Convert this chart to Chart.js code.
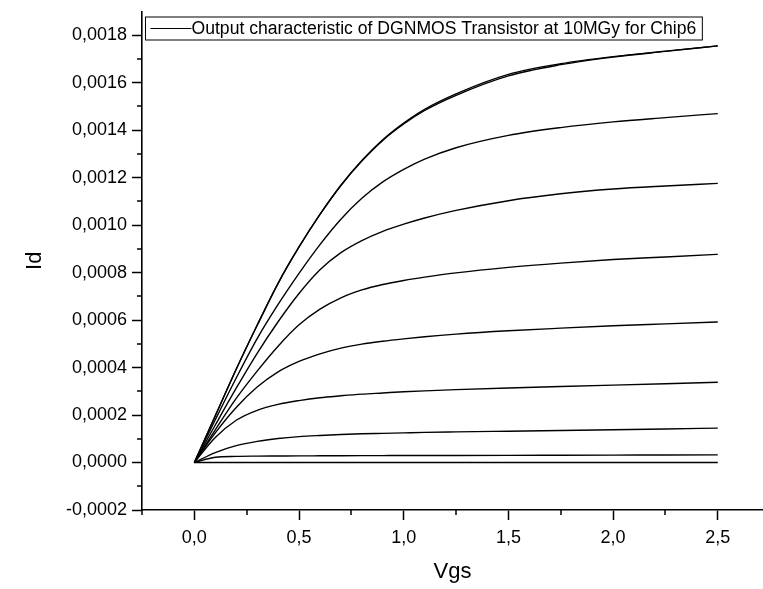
<!DOCTYPE html>
<html>
<head>
<meta charset="utf-8">
<script src="https://cdn.jsdelivr.net/npm/chart.js@4/dist/chart.umd.min.js"></script>
<style>
  html, body { margin: 0; padding: 0; background: #fff; overflow: hidden; }
  #wrap { width: 763px; height: 589px; position: relative; }
</style>
</head>
<body>
<div id="wrap"><canvas id="outChar"></canvas></div>
<script>
// drain voltage sweep (x values shared by every curve)
const vds = [0, 0.1, 0.2, 0.3, 0.4, 0.5, 0.6, 0.7, 0.8, 0.9, 1.0, 1.1, 1.25, 1.5, 1.75, 2.0, 2.25, 2.5];

// drain current, one array per gate step (top to bottom)
const id1 = [0, 0.000197, 0.000393, 0.000578, 0.000755, 0.000908, 0.001045, 0.001168, 0.001272, 0.001360, 0.001430, 0.001488, 0.001553, 0.001635, 0.001680, 0.001710, 0.001733, 0.001755];
const id1b = [0, 0.000197, 0.000393, 0.000578, 0.000755, 0.000908, 0.001045, 0.001167, 0.001270, 0.001357, 0.001426, 0.001483, 0.001547, 0.001629, 0.001676, 0.001708, 0.001732, 0.001755];
const id2 = [0, 0.000180, 0.000356, 0.000522, 0.000666, 0.000797, 0.000918, 0.001025, 0.001113, 0.001182, 0.001235, 0.001278, 0.001326, 0.001378, 0.001411, 0.001435, 0.001453, 0.001470];
const id3 = [0, 0.000158, 0.000313, 0.000460, 0.000593, 0.000712, 0.000812, 0.000884, 0.000935, 0.000974, 0.001004, 0.001030, 0.001062, 0.001103, 0.001132, 0.001152, 0.001165, 0.001176];
const id4 = [0, 0.000138, 0.000270, 0.000385, 0.000490, 0.000580, 0.000646, 0.000694, 0.000727, 0.000750, 0.000767, 0.000781, 0.000799, 0.000822, 0.000840, 0.000855, 0.000866, 0.000877];
const id5 = [0, 0.000125, 0.000232, 0.000318, 0.000382, 0.000426, 0.000458, 0.000482, 0.000499, 0.000511, 0.000521, 0.000530, 0.000541, 0.000555, 0.000566, 0.000576, 0.000584, 0.000592];
const id6 = [0, 0.000105, 0.000178, 0.000220, 0.000245, 0.000261, 0.000273, 0.000281, 0.000288, 0.000293, 0.000298, 0.000302, 0.000307, 0.000314, 0.000320, 0.000326, 0.000332, 0.000338];
const id7 = [0, 0.000042, 0.000071, 0.000089, 0.000101, 0.000109, 0.000114, 0.000118, 0.000121, 0.000123, 0.000125, 0.000127, 0.000129, 0.000132, 0.000135, 0.000138, 0.000141, 0.000145];
const id8 = [0, 0.000022, 0.000026, 0.000027, 0.0000275, 0.000028, 0.0000283, 0.0000286, 0.0000289, 0.0000292, 0.0000295, 0.0000297, 0.0000299, 0.000030, 0.0000306, 0.0000312, 0.0000318, 0.0000324];
const id9 = [0, 0, 0, 0, 0, 0, 0, 0, 0, 0, 0, 0, 0, 0, 0, 0, 0, 0];

const curves = [id1, id1b, id2, id3, id4, id5, id6, id7, id8, id9];
const legendText = "Output characteristic of DGNMOS Transistor at 10MGy for Chip6";

// axis ticks
const xMajor = [0, 0.5, 1.0, 1.5, 2.0, 2.5];
const xMinor = [-0.25, 0.25, 0.75, 1.25, 1.75, 2.25];
const yMajor = [-0.0002, 0, 0.0002, 0.0004, 0.0006, 0.0008, 0.0010, 0.0012, 0.0014, 0.0016, 0.0018];
const yMinor = [-0.0001, 0.0001, 0.0003, 0.0005, 0.0007, 0.0009, 0.0011, 0.0013, 0.0015, 0.0017];

const FONT = '"Liberation Sans", Arial, sans-serif';
const commaNum = (v, d) => v.toFixed(d).replace(".", ",");

// short ticks between the labelled ones
const minorTicks = {
    id: "minorTicks",
    afterDraw(chart) {
        const { ctx, scales: { x, y }, chartArea } = chart;
        ctx.save();
        ctx.strokeStyle = "#000";
        ctx.lineWidth = 1.5;
        ctx.beginPath();
        xMinor.forEach(v => {
            const px = Math.round(x.getPixelForValue(v));
            ctx.moveTo(px, chartArea.bottom);
            ctx.lineTo(px, chartArea.bottom + 5);
        });
        yMinor.forEach(v => {
            const py = Math.round(y.getPixelForValue(v));
            ctx.moveTo(chartArea.left, py);
            ctx.lineTo(chartArea.left - 5, py);
        });
        ctx.stroke();
        ctx.restore();
    }
};

// Origin style legend box in the top left of the plot
const boxLegend = {
    id: "boxLegend",
    afterDraw(chart) {
        const { ctx, chartArea } = chart;
        const label = chart.data.datasets[0].label;
        ctx.save();
        ctx.font = "17.6px " + FONT;
        const w = ctx.measureText(label).width;
        const x0 = chartArea.left + 3.5;
        const y0 = chartArea.top + 5.5;
        const h = 23;
        ctx.fillStyle = "#fff";
        ctx.fillRect(x0, y0, w + 52, h);
        ctx.strokeStyle = "#000";
        ctx.lineWidth = 1;
        ctx.strokeRect(x0, y0, w + 52, h);
        ctx.beginPath();
        ctx.moveTo(x0 + 5, y0 + 11.5);
        ctx.lineTo(x0 + 46, y0 + 11.5);
        ctx.stroke();
        ctx.fillStyle = "#000";
        ctx.textBaseline = "middle";
        ctx.fillText(label, x0 + 46, y0 + 12.5);
        ctx.restore();
    }
};

const datasets = curves.map((c, i) => ({
    label: i === 0 ? legendText : "",
    data: vds.map((v, k) => ({ x: v, y: c[k] })),
    borderColor: "#000",
    borderWidth: 1.4,
    pointRadius: 0,
    cubicInterpolationMode: "monotone",
    fill: false
}));

const ctx = document.getElementById("outChar").getContext("2d");
new Chart(ctx, {
    type: "line",
    data: { datasets },
    plugins: [minorTicks, boxLegend],
    options: {
        responsive: true,
        maintainAspectRatio: false,
        animation: false,
        layout: { padding: { top: 11.5, right: 0, bottom: 0, left: 0 } },
        plugins: {
            legend: { display: false },
            tooltip: { enabled: false }
        },
        scales: {
            x: {
                type: "linear",
                min: -0.25,
                max: 2.716,
                afterBuildTicks: s => { s.ticks = xMajor.map(v => ({ value: v })); },
                afterFit: s => { s.height = 79; s.paddingLeft = 0; s.paddingRight = 0; },
                grid: { drawOnChartArea: false, drawTicks: true, tickLength: 10, tickWidth: 1.5, tickColor: "#000" },
                border: { display: true, color: "#000", width: 1.6 },
                ticks: {
                    color: "#000",
                    padding: 7,
                    maxRotation: 0,
                    font: { family: FONT, size: 18 },
                    callback: v => commaNum(v, 1)
                },
                title: {
                    display: true,
                    text: "Vgs",
                    color: "#000",
                    font: { family: FONT, size: 22 },
                    padding: { top: 0, bottom: 4 }
                }
            },
            y: {
                type: "linear",
                min: -0.0002,
                max: 0.0019,
                afterBuildTicks: s => { s.ticks = yMajor.map(v => ({ value: v })); },
                afterFit: s => { s.width = 142; s.paddingTop = 0; s.paddingBottom = 0; },
                grid: { drawOnChartArea: false, drawTicks: true, tickLength: 10, tickWidth: 1.5, tickColor: "#000" },
                border: { display: true, color: "#000", width: 1.6 },
                ticks: {
                    color: "#000",
                    padding: 5,
                    font: { family: FONT, size: 18 },
                    callback: v => commaNum(v, 4)
                },
                title: {
                    display: true,
                    text: "Id",
                    color: "#000",
                    font: { family: FONT, size: 22 },
                    padding: { top: 22, bottom: 0 }
                }
            }
        }
    }
});
</script>
</body>
</html>
